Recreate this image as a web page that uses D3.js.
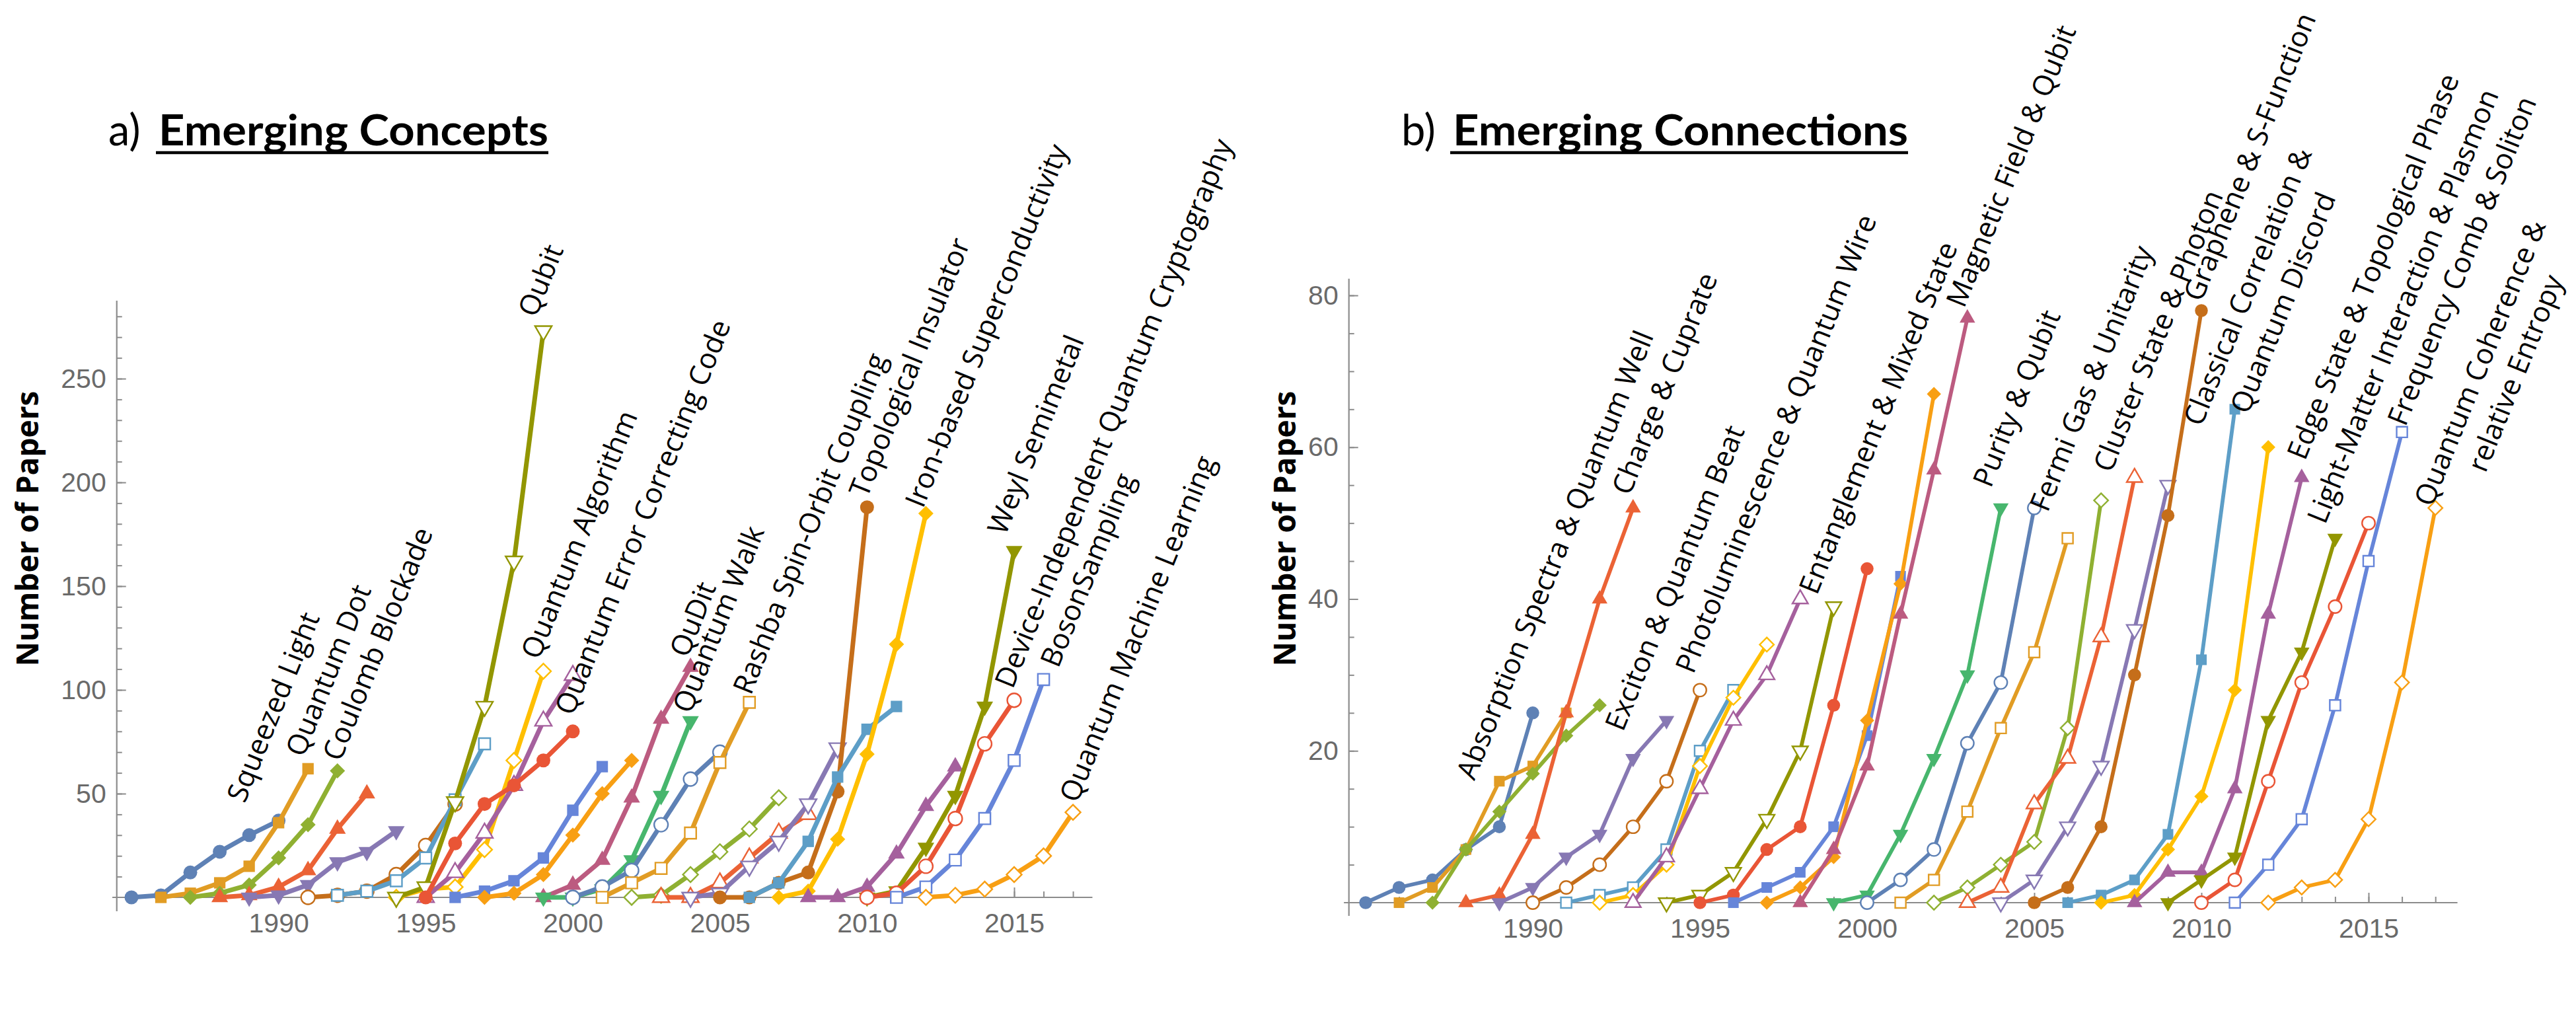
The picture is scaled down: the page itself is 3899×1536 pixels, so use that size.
<!DOCTYPE html>
<html>
<head>
<meta charset="utf-8">
<script src="https://cdn.jsdelivr.net/npm/d3@7"></script>
<style>
  body { margin: 0; background: #fff; }
</style>
</head>
<body>
<div id="chart"></div>
<script>
// ---------- a) Emerging Concepts ----------
// each concept: first year and 6 yearly counts
const conceptStart = [1985, 1986, 1987, 1988, 1989, 1991, 1992, 1994, 1995, 1994,
                      1995, 1996, 1997, 1999, 1999, 2000, 2001, 2002, 2003, 2004,
                      2005, 2006, 2007, 2008, 2010, 2010, 2011, 2012];
const conceptCounts = [
  [0, 1, 12, 22, 30, 37],
  [0, 2, 7, 15, 36, 62],
  [0, 2, 6, 19, 35, 61],
  [0, 1, 5, 13, 33, 50],
  [0, 1, 6, 17, 22, 32],
  [0, 1, 3, 11, 25, 45],
  [1, 3, 8, 19, 47, 74],
  [0, 4, 5, 23, 66, 109],
  [0, 12, 31, 54, 85, 107],
  [0, 5, 46, 92, 162, 273],
  [0, 26, 45, 54, 66, 80],
  [0, 3, 8, 19, 42, 63],
  [0, 2, 11, 30, 50, 66],
  [0, 6, 18, 48, 86, 111],
  [0, 0, 4, 18, 49, 85],
  [0, 5, 13, 35, 57, 70],
  [0, 7, 14, 31, 65, 94],
  [0, 1, 11, 22, 33, 48],
  [0, 0, 7, 19, 31, 40],
  [0, 2, 15, 27, 45, 72],
  [0, 0, 7, 12, 51, 188],
  [0, 7, 27, 58, 81, 92],
  [0, 3, 28, 69, 122, 185],
  [0, 0, 5, 21, 44, 63],
  [0, 3, 24, 49, 92, 167],
  [0, 2, 15, 38, 74, 95],
  [0, 5, 18, 38, 66, 105],
  [0, 1, 4, 11, 20, 41]
];
const conceptLabels = ["Squeezed Light", "Quantum Dot", "Coulomb Blockade", "Qubit",
  "Quantum Algorithm", "Quantum Error Correcting Code", "QuDit", "Quantum Walk",
  "Rashba Spin-Orbit Coupling", "Topological Insulator", "Iron-based Superconductivity",
  "Weyl Semimetal", "Device-Independent Quantum Cryptography", "BosonSampling",
  "Quantum Machine Learning"];
// label anchors in data units [year, papers]
const conceptLabelAt = [[1988.85, 45], [1990.85, 67], [1992.1, 65], [1998.75, 279],
  [1998.85, 114], [2000.0, 87], [2003.9, 115], [2004.0, 88], [2006.05, 97],
  [2010.0, 192], [2011.9, 187], [2014.7, 174], [2014.95, 100], [2016.5, 110],
  [2017.15, 45]];
const conceptYTicks = [50, 100, 150, 200, 250];

// ---------- b) Emerging Connections ----------
const connectionStart = [1985, 1986, 1987, 1988, 1989, 1990, 1991, 1992, 1993, 1994,
                         1995, 1996, 1997, 1998, 1999, 2000, 2001, 2002, 2003, 2004,
                         2005, 2006, 2007, 2008, 2009, 2010, 2011, 2012];
const connectionCounts = [
  [0, 2, 3, 7, 10, 25],
  [0, 2, 7, 16, 18, 25],
  [0, 7, 12, 17, 22, 26],
  [0, 1, 9, 25, 40, 52],
  [0, 2, 6, 9, 19, 24],
  [0, 2, 5, 10, 16, 28],
  [0, 1, 2, 7, 20, 28],
  [0, 1, 5, 18, 27, 34],
  [0, 6, 15, 24, 30, 40],
  [0, 1, 4, 11, 20, 39],
  [0, 1, 7, 10, 26, 44],
  [0, 2, 4, 10, 22, 43],
  [0, 2, 6, 24, 42, 67],
  [0, 7, 18, 38, 57, 77],
  [0, 1, 9, 19, 30, 52],
  [0, 3, 7, 21, 29, 52],
  [0, 3, 12, 23, 33, 48],
  [0, 2, 5, 8, 23, 53],
  [0, 2, 13, 19, 35, 56],
  [0, 3, 10, 18, 36, 55],
  [0, 2, 10, 30, 51, 78],
  [0, 1, 3, 9, 32, 65],
  [0, 1, 7, 14, 28, 60],
  [0, 4, 4, 15, 38, 56],
  [0, 3, 6, 24, 33, 48],
  [0, 3, 16, 29, 39, 50],
  [0, 5, 11, 26, 45, 62],
  [0, 2, 3, 11, 29, 52]
];
const connectionLabels = ["Absorption Spectra & Quantum Well", "Charge & Cuprate",
  "Exciton & Quantum Beat", "Photoluminescence & Quantum Wire", "Entanglement & Mixed State",
  "Magnetic Field & Qubit", "Purity & Qubit", "Fermi Gas & Unitarity", "Cluster State & Photon",
  "Graphene & S-Function", "Classical Correlation &", "Quantum Discord",
  "Edge State & Topological Phase", "Light-Matter Interaction & Plasmon",
  "Frequency Comb & Soliton", "Quantum Coherence &", "relative Entropy"];
const connectionLabelAt = [[1988.25, 16], [1992.9, 53.5], [1992.7, 22.4], [1994.8, 30],
  [1998.5, 40.4], [2002.9, 78.2], [2003.7, 54.5], [2005.4, 51.3], [2007.3, 56.5],
  [2010.0, 79], [2010.0, 62.6], [2011.4, 64.2], [2013.1, 58.1], [2013.7, 49.7],
  [2016.1, 62.6], [2016.9, 52], [2018.5, 56.5]];
const connectionYTicks = [20, 40, 60, 80];

const yearTicks = [1990, 1995, 2000, 2005, 2010, 2015];

// Mathematica default colour cycle and marker cycle
const palette = ["#5E81B5", "#E19C24", "#8FB032", "#EB6235", "#8778B3", "#C56E1A",
                 "#5D9EC7", "#FFBF00", "#A5609D", "#929600", "#E95536", "#6685D9",
                 "#F89F13", "#BC5B80", "#47B66D"];
const markerCycle = ["circle", "square", "diamond", "triUp", "triDown"];

const width = 3899, height = 1536;
const svg = d3.select("#chart").append("svg")
    .attr("width", width)
    .attr("height", height)
    .style("background", "#fff");

function markerShape(kind, scale) {
    // returns [path, extra rotation]
    if (kind === "circle") return [d3.symbol(d3.symbolCircle, 300 * scale)(), ""];
    if (kind === "square") return [d3.symbol(d3.symbolSquare, 260 * scale)(), ""];
    if (kind === "diamond") return [d3.symbol(d3.symbolSquare, 230 * scale)(), " rotate(45)"];
    if (kind === "triUp") return [d3.symbol(d3.symbolTriangle, 240 * scale)(), ""];
    return [d3.symbol(d3.symbolTriangle, 240 * scale)(), " rotate(180)"];
}

function drawPanel(p) {
    const g = svg.append("g");
    const x = d3.scaleLinear().domain([1985, 2015]).range(p.xRange);
    const y = d3.scaleLinear().domain([0, p.yRef]).range(p.yRange);
    const axisColor = "#8c8c8c";
    const tickFont = "'Liberation Sans', Arial, sans-serif";

    // minor x ticks (every year)
    g.append("g")
        .attr("transform", `translate(0,${y(0)})`)
        .call(d3.axisBottom(x).tickValues(d3.range(1985, 2018)).tickSize(-9).tickFormat(""))
        .call(a => a.select(".domain").remove());
    // major x ticks with labels
    g.append("g")
        .attr("transform", `translate(0,${y(0)})`)
        .call(d3.axisBottom(x).tickValues(yearTicks).tickSize(-15).tickPadding(24).tickFormat(d3.format("d")))
        .call(a => a.select(".domain").remove());

    const yAxisX = x(1984.5);
    // minor y ticks
    g.append("g")
        .attr("transform", `translate(${yAxisX},0)`)
        .call(d3.axisLeft(y).tickValues(d3.range(p.minorStep, p.yMinorMax + 1, p.minorStep)).tickSize(-8).tickFormat(""))
        .call(a => a.select(".domain").remove());
    // major y ticks with labels
    g.append("g")
        .attr("transform", `translate(${yAxisX},0)`)
        .call(d3.axisLeft(y).tickValues(p.yTicks).tickSize(-14).tickPadding(16))
        .call(a => a.select(".domain").remove());

    g.selectAll(".tick line").attr("stroke", axisColor).attr("stroke-width", 2);
    g.selectAll(".tick text")
        .attr("fill", "#6a6a6a")
        .style("font-family", tickFont)
        .style("font-size", "41px");

    // axis lines (Mathematica style, crossing near origin)
    g.append("line")
        .attr("x1", x(1984.35)).attr("x2", x(2017.66))
        .attr("y1", y(0)).attr("y2", y(0))
        .attr("stroke", axisColor).attr("stroke-width", 2.2);
    g.append("line")
        .attr("x1", yAxisX).attr("x2", yAxisX)
        .attr("y1", y(p.yAxisLow)).attr("y2", y(p.yAxisHigh))
        .attr("stroke", axisColor).attr("stroke-width", 2.2);

    // series
    const line = d3.line().x(d => x(d.year)).y(d => y(d.value));
    p.counts.forEach((vals, i) => {
        const color = palette[i % palette.length];
        const kind = markerCycle[i % 5];
        const hollow = (i % 10) >= 5;
        const pts = vals.map((v, k) => ({year: p.start[i] + k, value: v}));
        const sg = g.append("g");
        sg.append("path")
            .attr("d", line(pts))
            .attr("fill", "none")
            .attr("stroke", color)
            .attr("stroke-width", p.lineWidth)
            .attr("stroke-linejoin", "round");
        const [shape, rot] = markerShape(kind, p.markerScale);
        sg.selectAll("path.mk")
            .data(pts)
            .join("path")
            .attr("class", "mk")
            .attr("d", shape)
            .attr("transform", d => `translate(${x(d.year)},${y(d.value)})${rot}`)
            .attr("fill", hollow ? "#fff" : color)
            .attr("stroke", color)
            .attr("stroke-width", hollow ? 2.4 : 0);
    });

    // rotated labels
    p.labels.forEach((t, i) => {
        const a = p.labelAt[i];
        g.append("text")
            .attr("transform", `translate(${x(a[0])},${y(a[1])}) rotate(-68)`)
            .style("font-family", "'Open Sans', 'Noto Sans', sans-serif")
            .style("font-size", "43px")
            .attr("fill", "#000")
            .text(t);
    });

    // y-axis title
    g.append("text")
        .attr("transform", `translate(${p.yTitleX},800) rotate(-90)`)
        .attr("text-anchor", "middle")
        .style("font-family", "'Open Sans', 'Noto Sans', sans-serif")
        .style("font-weight", "bold")
        .style("font-size", "46px")
        .attr("fill", "#000")
        .text("Number of Papers");

    // panel title
    g.append("text")
        .attr("x", p.titleX).attr("y", 220)
        .style("font-family", "Lato, 'Open Sans', sans-serif")
        .style("font-size", "65px")
        .attr("fill", "#000")
        .text(p.prefix);
    g.append("text")
        .attr("x", p.titleStart).attr("y", 220)
        .attr("textLength", p.titleEnd - p.titleStart)
        .attr("lengthAdjust", "spacingAndGlyphs")
        .style("font-family", "Lato, 'Open Sans', sans-serif")
        .style("font-weight", "bold")
        .style("font-size", "65px")
        .attr("fill", "#000")
        .text(p.title);
    g.append("line")
        .attr("x1", p.titleStart - 4).attr("x2", p.titleEnd)
        .attr("y1", 231).attr("y2", 231)
        .attr("stroke", "#000").attr("stroke-width", 4.5);
}

drawPanel({
    start: conceptStart, counts: conceptCounts,
    labels: conceptLabels, labelAt: conceptLabelAt,
    yTicks: conceptYTicks, yRef: 250, minorStep: 10, yMinorMax: 280,
    yAxisLow: -6.7, yAxisHigh: 287.6,
    xRange: [199, 1535], yRange: [1358, 573],
    lineWidth: 7, markerScale: 1.15,
    yTitleX: 58, titleX: 164, prefix: "a)",
    titleStart: 240, titleEnd: 830, title: "Emerging Concepts"
});

drawPanel({
    start: connectionStart, counts: connectionCounts,
    labels: connectionLabels, labelAt: connectionLabelAt,
    yTicks: connectionYTicks, yRef: 80, minorStep: 5, yMinorMax: 80,
    yAxisLow: -1.74, yAxisHigh: 82.2,
    xRange: [2067, 3585], yRange: [1366, 447],
    lineWidth: 5.8, markerScale: 1.0,
    yTitleX: 1961, titleX: 2121, prefix: "b)",
    titleStart: 2199, titleEnd: 2888, title: "Emerging Connections"
});
</script>
</body>
</html>
